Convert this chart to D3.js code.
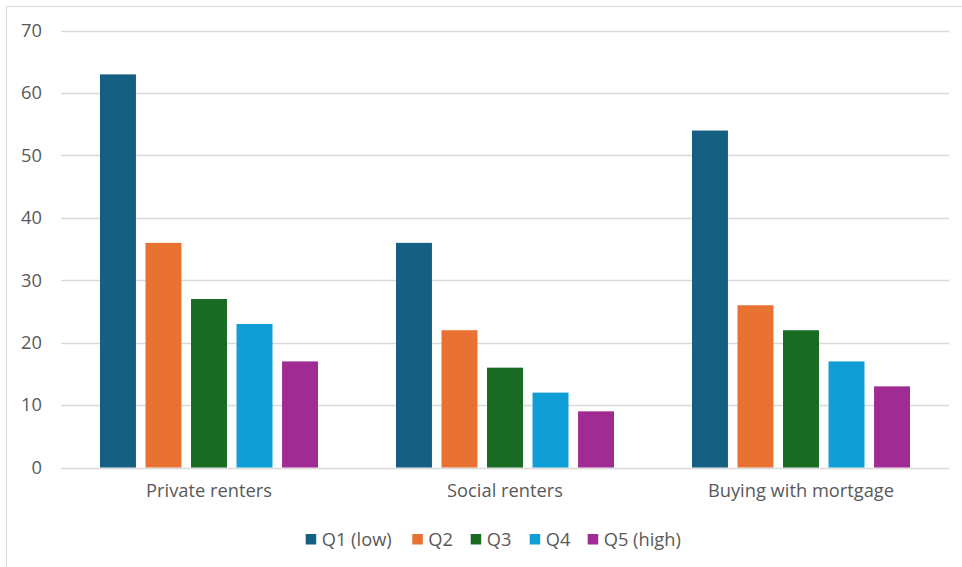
<!DOCTYPE html>
<html><head><meta charset="utf-8">
<script src="https://cdn.jsdelivr.net/npm/d3@7"></script>
<style>body{margin:0;background:#fff}svg{display:block}</style>
</head><body>
<svg id="c" width="962" height="567"></svg>
<script>
const categories = ["Private renters", "Social renters", "Buying with mortgage"];
const seriesNames = ["Q1 (low)", "Q2", "Q3", "Q4", "Q5 (high)"];
const q1 = [63, 36, 54];
const q2 = [36, 22, 26];
const q3 = [27, 16, 22];
const q4 = [23, 12, 17];
const q5 = [17, 9, 13];
const colors = ["#156082", "#E97132", "#196B24", "#0F9ED5", "#A02B93"];
const yTicks = [0, 10, 20, 30, 40, 50, 60, 70];

const seriesValues = [q1, q2, q3, q4, q5];
const svg = d3.select("#c");
const font = "'Open Sans', sans-serif";
const textColor = "#595959";
const fs = 18.3;

svg.append("rect").attr("x", 6.5).attr("y", 6.5).attr("width", 962).attr("height", 567)
  .attr("fill", "#fff").attr("stroke", "#d9d9d9");

const pLeft = 61, pRight = 949, pTop = 30.7, pBottom = 467.5;
const y = d3.scaleLinear().domain([0, 70]).range([pBottom, pTop]);
const x0 = d3.scaleBand().domain(categories).range([pLeft, pRight]).padding(0);
const x1 = d3.scaleBand().domain(seriesNames).range([39, x0.bandwidth() - 39]).paddingInner(0.21).paddingOuter(0);

// gridlines
svg.append("g").selectAll("line").data(yTicks).join("line")
  .attr("x1", pLeft).attr("x2", pRight)
  .attr("y1", d => Math.round(y(d)) + 0.5).attr("y2", d => Math.round(y(d)) + 0.5)
  .attr("stroke", "#d9d9d9").attr("stroke-width", 1.3);

// y axis labels
const yAxis = d3.axisLeft(y).tickValues(yTicks).tickSize(0).tickPadding(0);
const ya = svg.append("g").attr("transform", `translate(42,0)`).call(yAxis);
ya.select(".domain").remove();
ya.selectAll("text").attr("font-family", font).attr("font-size", fs).attr("fill", textColor);

// bars
const groups = svg.append("g").selectAll("g").data(categories).join("g")
  .attr("transform", d => `translate(${x0(d)},0)`);
groups.selectAll("rect").data((c, ci) => seriesNames.map((s, si) => ({s, si, v: seriesValues[si][ci]})))
  .join("rect")
  .attr("x", d => x1(d.s)).attr("width", x1.bandwidth())
  .attr("y", d => y(d.v)).attr("height", d => y(0) - y(d.v))
  .attr("fill", d => colors[d.si]);

// x axis labels
const xAxis = d3.axisBottom(x0).tickSize(0).tickPadding(0);
const xa = svg.append("g").attr("transform", `translate(0,${pBottom + 16.5})`).call(xAxis);
xa.select(".domain").remove();
xa.selectAll("text").attr("font-family", font).attr("font-size", fs).attr("fill", textColor);

// legend
const legendX = [305.7, 412.3, 470.7, 529.7, 587.7];
const lg = svg.append("g").selectAll("g").data(seriesNames).join("g")
  .attr("transform", (d, i) => `translate(${legendX[i]},534)`);
lg.append("rect").attr("width", 10.5).attr("height", 10.5).attr("fill", (d, i) => colors[i]);
lg.append("text").attr("x", 16).attr("y", 11.5).text(d => d)
  .attr("font-family", font).attr("font-size", fs).attr("fill", textColor);
</script>
</body></html>
